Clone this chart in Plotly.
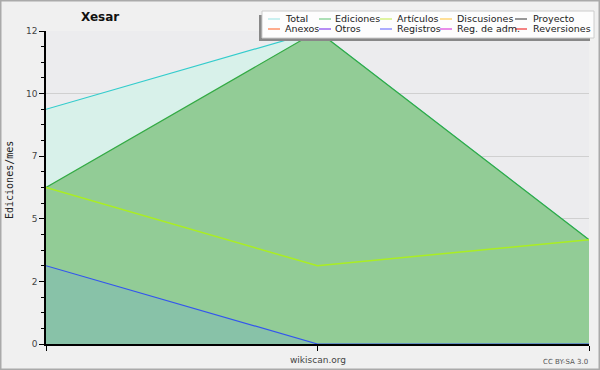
import plotly.graph_objects as go

# ---- data ----
months = ["m1", "m2", "m3"]
total = [9, 12, 4]
ediciones = [6, 12, 4]
articulos = [6, 3, 4]
registros = [3, 0, 0]

y_tickvals = [0, 2.4, 4.8, 7.2, 9.6, 12]
y_ticktext = ["0", "2", "5", "7", "10", "12"]

legend_names = ["Total", "Ediciones", "Artículos", "Discusiones", "Proyecto",
                "Anexos", "Otros", "Registros", "Reg. de adm.", "Reversiones"]
legend_colors = ["#a8e8e8", "#77cc88", "#ccee66", "#ffcc55", "#555555",
                 "#ff7744", "#8844ee", "#7777ff", "#dd44dd", "#ee3333"]

# ---- geometry (pixels) ----
W, H = 600, 370
L, R, T, B = 46, 589, 31, 344
pw, ph = R - L, B - T


def px(x):
    return (x - L) / pw


def py(y):
    return (B - y) / ph


fig = go.Figure()
fig.add_trace(go.Scatter(x=months, y=total, mode="lines", fill="tozeroy",
                         fillcolor="#d8f1ea", line=dict(color="#33cccc", width=1.2),
                         showlegend=False))
fig.add_trace(go.Scatter(x=months, y=ediciones, mode="lines", fill="tozeroy",
                         fillcolor="#92cc96", line=dict(color="#33aa44", width=1.2),
                         showlegend=False))
fig.add_trace(go.Scatter(x=months, y=registros, mode="lines", fill="tozeroy",
                         fillcolor="#88c2a8", line=dict(color="#3355ee", width=1.2),
                         showlegend=False))
fig.add_trace(go.Scatter(x=months, y=articulos, mode="lines",
                         line=dict(color="#aaee22", width=1.5),
                         showlegend=False))

shapes = []
annotations = []

# legend box with shadow
shapes.append(dict(type="rect", xref="paper", yref="paper",
                   x0=px(259), x1=px(590), y0=py(41), y1=py(15),
                   fillcolor="#888888", line=dict(width=0), layer="above"))
shapes.append(dict(type="rect", xref="paper", yref="paper",
                   x0=px(262), x1=px(594), y0=py(38), y1=py(11),
                   fillcolor="#fdfdfd", line=dict(color="#cccccc", width=1), layer="above"))

line_x = [268, 319, 380, 440, 515]
text_x = [285, 335, 397, 457, 533]
row_y = [19, 29]
for i, (name, col) in enumerate(zip(legend_names, legend_colors)):
    r, c = divmod(i, 5)
    yy = row_y[r]
    shapes.append(dict(type="line", xref="paper", yref="paper",
                       x0=px(line_x[c]), x1=px(line_x[c] + 12), y0=py(yy), y1=py(yy),
                       line=dict(color=col, width=1.2), layer="above"))
    annotations.append(dict(text=name, xref="paper", yref="paper",
                            x=px(text_x[c] - 2), y=py(yy), xanchor="left", yanchor="middle",
                            showarrow=False, font=dict(family="DejaVu Sans", size=9.5, color="#222")))

annotations.append(dict(text="<b>Xesar</b>", xref="paper", yref="paper", x=px(100), y=py(17),
                        xanchor="center", yanchor="middle", showarrow=False,
                        font=dict(family="DejaVu Sans", size=12, color="#111")))
annotations.append(dict(text="wikiscan.org", xref="paper", yref="paper", x=px(318), y=py(360),
                        xanchor="center", yanchor="middle", showarrow=False,
                        font=dict(family="DejaVu Sans", size=9, color="#444")))
annotations.append(dict(text="CC BY-SA 3.0", xref="paper", yref="paper", x=px(590), y=py(362),
                        xanchor="right", yanchor="middle", showarrow=False,
                        font=dict(family="DejaVu Sans", size=7, color="#555")))
annotations.append(dict(text="Ediciones/mes", xref="paper", yref="paper", x=px(9), y=py(180),
                        xanchor="center", yanchor="middle", showarrow=False, textangle=-90,
                        font=dict(family="DejaVu Sans Mono", size=10, color="#222")))

# outer border
shapes.append(dict(type="rect", xref="paper", yref="paper",
                   x0=px(0.75), x1=px(599.25), y0=py(369.25), y1=py(0.75),
                   line=dict(color="#aaaaaa", width=1.5), layer="below"))

fig.update_layout(
    width=W, height=H,
    margin=dict(l=L, r=W - R, t=T, b=H - B),
    paper_bgcolor="#f0f0f0", plot_bgcolor="#ececee",
    showlegend=False,
    shapes=shapes, annotations=annotations,
    xaxis=dict(type="category", range=[0, 2], showgrid=False, showticklabels=False,
               ticks="outside", ticklen=5, tickcolor="#000", showline=True,
               linecolor="#000", linewidth=1.5, zeroline=False, fixedrange=True),
    yaxis=dict(range=[0, 12], tickvals=y_tickvals, ticktext=y_ticktext,
               ticks="outside", ticklen=5, tickcolor="#000", showline=True,
               linecolor="#000", linewidth=1.5, showgrid=True, gridcolor="#d0d0d0",
               zeroline=False, tickfont=dict(family="DejaVu Sans", size=9, color="#444"),
               minor=dict(dtick=0.6, tick0=0, ticks="outside", ticklen=3, tickcolor="#000",
                          showgrid=False),
               fixedrange=True),
)

fig.write_html("out.html", config={"displayModeBar": False},
               post_script="document.body.style.margin='0px';document.body.style.overflow='hidden';")
